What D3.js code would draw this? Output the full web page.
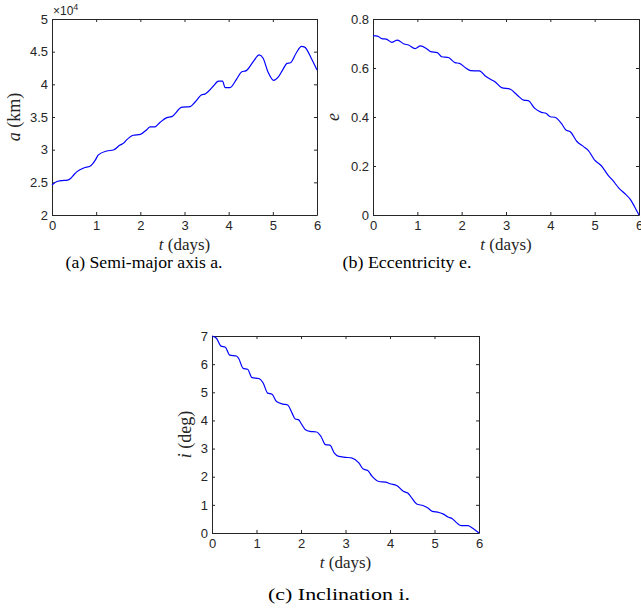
<!DOCTYPE html>
<html>
<head>
<meta charset="utf-8">
<script src="https://cdn.jsdelivr.net/npm/d3@7"></script>
<style>
body { margin: 0; background: #fff; }
.tick text { font-family: "Liberation Sans", Arial, sans-serif; font-size: 13px; fill: #262626; }
.lbl { font-family: "Liberation Serif", "Times New Roman", serif; font-size: 17px; fill: #262626; }
.cap { font-family: "Liberation Serif", "Times New Roman", serif; font-size: 17px; fill: #000; }
</style>
</head>
<body>
<div id="fig"></div>
<script>
// time axis shared by all three panels
var xTicks = [0, 1, 2, 3, 4, 5, 6];

// (a) semi-major axis, in units of 1e4 km
var tA = [0, 0.1, 0.2, 0.35, 0.42, 0.5, 0.56, 0.72, 0.87, 0.98, 1.05, 1.24, 1.39, 1.54, 1.62, 1.69, 1.84, 2.0,
  2.15, 2.22, 2.33, 2.45, 2.6, 2.71, 2.94, 3.13, 3.24, 3.39, 3.46, 3.65, 3.77, 3.86, 3.92, 4.03, 4.18, 4.29,
  4.40, 4.56, 4.69, 4.78, 4.89, 5.02, 5.12, 5.23, 5.32, 5.40, 5.53, 5.65, 5.72, 5.87, 6.0];
var aVals = [2.46, 2.51, 2.525, 2.535, 2.56, 2.62, 2.66, 2.72, 2.75, 2.84, 2.92, 2.98, 2.995, 3.07, 3.10, 3.15, 3.22, 3.235,
  3.31, 3.35, 3.35, 3.42, 3.49, 3.505, 3.65, 3.66, 3.73, 3.84, 3.85, 3.97, 4.05, 4.05, 3.95, 3.95, 4.08, 4.19,
  4.21, 4.35, 4.45, 4.40, 4.19, 4.06, 4.11, 4.23, 4.32, 4.33, 4.48, 4.58, 4.57, 4.40, 4.22];
var aTicks = [2, 2.5, 3, 3.5, 4, 4.5, 5];
var aTickLabels = ["2", "2.5", "3", "3.5", "4", "4.5", "5"];

// (b) eccentricity
var tE = [0, 0.1, 0.2, 0.3, 0.42, 0.55, 0.7, 0.8, 0.95, 1.07, 1.2, 1.3, 1.45, 1.55, 1.7, 1.85, 1.95, 2.1, 2.2, 2.4,
  2.55, 2.65, 2.75, 2.9, 3.1, 3.25, 3.4, 3.5, 3.65, 3.8, 3.9, 4.0, 4.1, 4.25, 4.35, 4.45, 4.6, 4.75, 4.85, 5.0,
  5.15, 5.3, 5.4, 5.55, 5.7, 5.8, 5.9, 6.0];
var eVals = [0.732, 0.73, 0.72, 0.718, 0.705, 0.714, 0.698, 0.694, 0.679, 0.69, 0.68, 0.667, 0.663, 0.646, 0.643, 0.622,
  0.619, 0.599, 0.589, 0.588, 0.565, 0.554, 0.544, 0.52, 0.513, 0.49, 0.469, 0.467, 0.435, 0.419, 0.415, 0.401,
  0.399, 0.374, 0.347, 0.34, 0.30, 0.279, 0.265, 0.224, 0.201, 0.163, 0.143, 0.109, 0.084, 0.065, 0.034, 0];
var eTicks = [0, 0.2, 0.4, 0.6, 0.8];
var eTickLabels = ["0", "0.2", "0.4", "0.6", "0.8"];

// (c) inclination, deg
var tI = [0, 0.1, 0.2, 0.3, 0.4, 0.55, 0.6, 0.7, 0.8, 0.9, 1.05, 1.15, 1.25, 1.35, 1.45, 1.6, 1.7, 1.8, 1.87, 1.95,
  2.0, 2.1, 2.2, 2.35, 2.45, 2.55, 2.65, 2.75, 2.85, 3.0, 3.15, 3.3, 3.4, 3.5, 3.6, 3.75, 3.9, 4.0, 4.15, 4.3,
  4.4, 4.5, 4.6, 4.75, 4.85, 4.95, 5.1, 5.2, 5.3, 5.4, 5.5, 5.6, 5.75, 5.85, 6.0];
var iVals = [7.0, 6.92, 6.64, 6.6, 6.32, 6.29, 6.2, 5.85, 5.82, 5.52, 5.49, 5.33, 4.97, 4.93, 4.67, 4.58, 4.55, 4.26, 4.05, 4.02,
  3.9, 3.67, 3.61, 3.59, 3.43, 3.14, 3.12, 2.84, 2.72, 2.69, 2.66, 2.49, 2.27, 2.22, 2.01, 1.83, 1.81, 1.75, 1.69, 1.48,
  1.42, 1.22, 1.03, 0.97, 0.89, 0.77, 0.73, 0.67, 0.57, 0.51, 0.36, 0.26, 0.26, 0.18, 0];
var iTicks = [0, 1, 2, 3, 4, 5, 6, 7];
var iTickLabels = ["0", "1", "2", "3", "4", "5", "6", "7"];

var width = 641, height = 609;
var svg = d3.select('#fig').append('svg')
  .attr('width', width)
  .attr('height', height);

function panel(p) {
  var x = d3.scaleLinear().domain([0, 6]).range([p.left, p.right]);
  var y = d3.scaleLinear().domain(p.yDomain).range([p.bottom, p.top]);
  var g = svg.append('g');

  // ticks point inwards, on all four sides like MATLAB
  g.append('g')
    .attr('transform', 'translate(0,' + p.bottom + ')')
    .call(d3.axisBottom(x).tickValues(xTicks).tickFormat(d3.format('d')).tickSize(-3).tickSizeOuter(0).tickPadding(6));
  g.append('g')
    .attr('transform', 'translate(0,' + p.top + ')')
    .call(d3.axisTop(x).tickValues(xTicks).tickFormat('').tickSize(-3).tickSizeOuter(0));
  g.append('g')
    .attr('transform', 'translate(' + p.left + ',0)')
    .call(d3.axisLeft(y).tickValues(p.ticks).tickFormat(function (d, i) { return p.labels[i]; })
      .tickSize(-3).tickSizeOuter(0).tickPadding(4));
  g.append('g')
    .attr('transform', 'translate(' + p.right + ',0)')
    .call(d3.axisRight(y).tickValues(p.ticks).tickFormat('').tickSize(-3).tickSizeOuter(0));
  g.selectAll('.domain, .tick line').attr('stroke', '#262626');

  g.append('path')
    .datum(p.t.map(function (t, i) { return [t, p.v[i]]; }))
    .attr('fill', 'none')
    .attr('stroke', '#0000ff')
    .attr('stroke-width', 1.2)
    .attr('d', d3.line().x(function (d) { return x(d[0]); }).y(function (d) { return y(d[1]); })
      .curve(d3.curveMonotoneX));

  // x label
  var xl = g.append('text').attr('class', 'lbl')
    .attr('x', (p.left + p.right) / 2).attr('y', p.bottom + 35)
    .attr('text-anchor', 'middle');
  xl.append('tspan').attr('font-style', 'italic').text('t');
  xl.append('tspan').text(' (days)');

  // y label
  var yl = g.append('text').attr('class', 'lbl')
    .attr('transform', 'translate(' + (p.left - p.yLabelOff) + ',' + (p.top + p.bottom) / 2 + ')rotate(-90)')
    .attr('text-anchor', 'middle')
    .style('font-size', '18px');
  yl.append('tspan').attr('font-style', 'italic').text(p.yName);
  if (p.yUnit) yl.append('tspan').text(' ' + p.yUnit);

  // sub-caption, fitted to the width it has in the figure
  svg.append('text').attr('class', 'cap')
    .attr('x', p.capX).attr('y', p.capY)
    .attr('text-anchor', 'middle')
    .attr('textLength', p.capW)
    .attr('lengthAdjust', 'spacingAndGlyphs')
    .text(p.caption);
  return g;
}

var ga = panel({ left: 52, right: 317, top: 19, bottom: 215, yDomain: [2, 5], ticks: aTicks, labels: aTickLabels,
  t: tA, v: aVals, yName: 'a', yUnit: '(km)', yLabelOff: 32,
  caption: '(a) Semi-major axis a.', capX: 144, capY: 268, capW: 157 });
panel({ left: 373, right: 639, top: 19, bottom: 215, yDomain: [0, 0.8], ticks: eTicks, labels: eTickLabels,
  t: tE, v: eVals, yName: 'e', yUnit: '', yLabelOff: 34,
  caption: '(b) Eccentricity e.', capX: 407, capY: 268, capW: 129 });
panel({ left: 212, right: 479, top: 336, bottom: 533, yDomain: [0, 7], ticks: iTicks, labels: iTickLabels,
  t: tI, v: iVals, yName: 'i', yUnit: '(deg)', yLabelOff: 21,
  caption: '(c) Inclination i.', capX: 339, capY: 600, capW: 142 });

// exponent for panel (a)
var ex = ga.append('text')
  .attr('x', 53).attr('y', 15)
  .style('font-family', '"Liberation Sans", Arial, sans-serif')
  .style('font-size', '12px')
  .attr('fill', '#262626');
ex.append('tspan').text('\u00d710');
ex.append('tspan').attr('dy', -5).style('font-size', '9px').text('4');
</script>
</body>
</html>
